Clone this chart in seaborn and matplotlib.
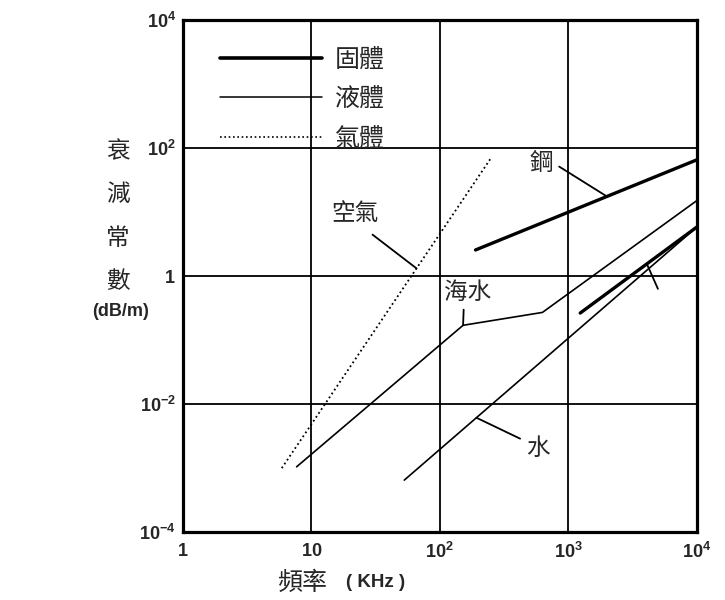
"""
attenuation constant vs frequency for solid, liquid and gas
"""

import seaborn as sns
import matplotlib.pyplot as plt
import pandas as pd
import numpy as np
from matplotlib.lines import Line2D

# frequency in KHz, attenuation in dB/m
steel_freq = [190, 1e4]
steel_att = [2.55, 65]

solid2_freq = [1240, 1e4]
solid2_att = [0.264, 5.8]

seawater_freq = [7.7, 152, 630, 1e4]
seawater_att = [1.05e-3, 0.17, 0.27, 15]

water_freq = [53, 1e4]
water_att = [6.5e-4, 5.8]

air_freq = [5.9, 250]
air_att = [1.0e-3, 69]

x_ticks = [1, 10, 100, 1000, 1e4]
x_ticklabels = ["1", "10", "10^{2}", "10^{3}", "10^{4}"]
y_ticks = [1e-4, 1e-2, 1, 1e2, 1e4]
y_ticklabels = ["10^{-4}", "10^{-2}", "1", "10^{2}", "10^{4}"]

legend_labels = ["固體", "液體", "氣體"]


def on_line(f, freqs, atts):
    """value of a series at frequency f (log-log interpolation)"""
    return 10 ** np.interp(np.log10(f), np.log10(freqs), np.log10(atts))


sns.set_style("white")
plt.rcParams["font.family"] = ["Noto Sans CJK TC", "DejaVu Sans"]
plt.rcParams["mathtext.fontset"] = "custom"
plt.rcParams["mathtext.bf"] = "Liberation Sans:bold"
plt.rcParams["mathtext.rm"] = "Liberation Sans"

fig = plt.figure(figsize=(7.25, 6), dpi=100)
ax = fig.add_axes([0.252, 0.113, 0.709, 0.854])

series = [
    (steel_freq, steel_att, 2.4, "-"),
    (solid2_freq, solid2_att, 2.4, "-"),
    (seawater_freq, seawater_att, 1.2, "-"),
    (water_freq, water_att, 1.2, "-"),
    (air_freq, air_att, 1.3, (0, (1, 1.6))),
]
for freq, att, lw, ls in series:
    df = pd.DataFrame({"freq": freq, "att": att})
    sns.lineplot(data=df, x="freq", y="att", color="black", lw=lw,
                 linestyle=ls, estimator=None, sort=False, ax=ax)

ax.set_xscale("log")
ax.set_yscale("log")
ax.set_xlim(1, 1e4)
ax.set_ylim(1e-4, 1e4)
ax.set_xticks(x_ticks)
ax.set_yticks(y_ticks)
ax.minorticks_off()
ax.set_xticklabels([r"$\mathbf{%s}$" % t for t in x_ticklabels], fontsize=13)
ax.set_yticklabels([r"$\mathbf{%s}$" % t for t in y_ticklabels], fontsize=13)
ax.tick_params(axis="x", length=0, pad=7)
ax.tick_params(axis="y", length=0, pad=5)
ax.grid(True, color="black", lw=1.3)

for s in ax.spines.values():
    s.set_visible(True)
    s.set_color("black")
    s.set_linewidth(2.3)

# labels
ax.set_xlabel("")
ax.set_ylabel("衰\n減\n常\n數", rotation=0, fontsize=17, linespacing=2.13,
              va="center", ha="center")
ax.yaxis.set_label_coords(-0.126, 0.616)
ax.text(-0.12, 0.43, "(dB/m)", transform=ax.transAxes, fontsize=13,
        fontweight="bold", family="Liberation Sans", ha="center", va="center")
ax.text(0.233, -0.098, "頻率", transform=ax.transAxes, fontsize=18,
        ha="center", va="center")
ax.text(0.375, -0.098, "( KHz )", transform=ax.transAxes, fontsize=13.5,
        fontweight="bold", family="Liberation Sans", ha="center", va="center")

# callouts
pointer = dict(arrowstyle="-", color="black", lw=1.3, shrinkA=2, shrinkB=0)
ax.annotate("鋼", xy=(2000, on_line(2000, steel_freq, steel_att)),
            xytext=(622, 58), ha="center", va="center", fontsize=17,
            arrowprops=dict(pointer, relpos=(1, 0.5)))
ax.annotate("空氣", xy=(66, on_line(66, air_freq, air_att)),
            xytext=(21.8, 9.6), ha="center", va="center", fontsize=17,
            arrowprops=dict(pointer, relpos=(0.6, 0), shrinkA=8))
ax.annotate("海水", xy=(seawater_freq[1], seawater_att[1]),
            xytext=(165, 0.56), ha="center", va="center", fontsize=17,
            arrowprops=dict(pointer, relpos=(0.42, 0)))
ax.annotate("水", xy=(193, on_line(193, water_freq, water_att)),
            xytext=(579, 2.04e-3), ha="center", va="center", fontsize=17,
            arrowprops=dict(pointer, relpos=(0, 0.8)))
ax.annotate("", xy=(4090, on_line(4090, solid2_freq, solid2_att)),
            xytext=(4990, 0.63), arrowprops=dict(pointer, shrinkA=0))

handles = [
    Line2D([], [], color="black", lw=2.6),
    Line2D([], [], color="black", lw=1.1),
    Line2D([], [], color="black", lw=1.2, linestyle=(0, (1, 1.6))),
]
ax.legend(handles, legend_labels, loc="upper left", bbox_to_anchor=(0.072, 0.948),
          frameon=False, handlelength=4.1, handletextpad=0.5, labelspacing=0.55,
          fontsize=18, borderaxespad=0, borderpad=0)

fig.savefig("out.png", dpi=100)
